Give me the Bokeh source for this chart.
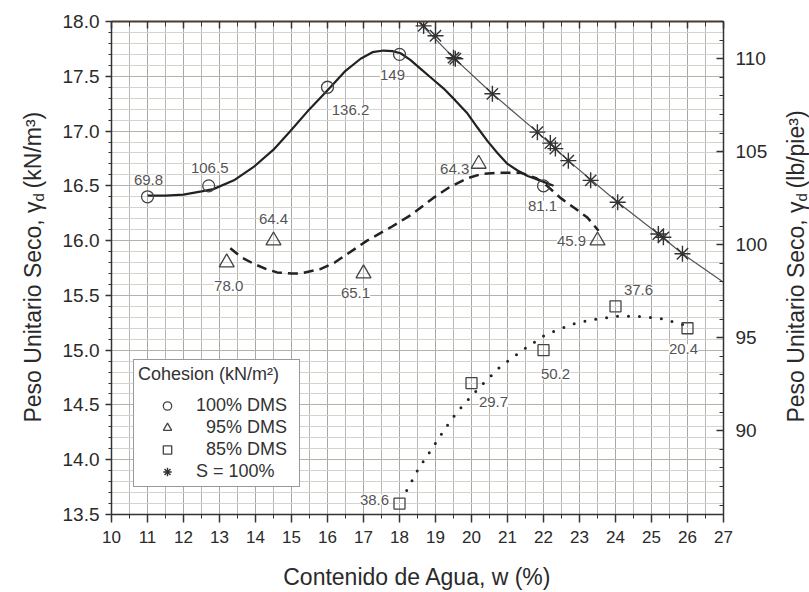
import math
from bokeh.plotting import figure
from bokeh.layouts import row
from bokeh.models import (ColumnDataSource, LinearAxis, Range1d, SingleIntervalTicker,
                          PrintfTickFormatter, Legend, LegendItem, BoxAnnotation)
from bokeh.core.properties import value
from bokeh.embed import file_html
from bokeh.resources import INLINE

FONT = "Liberation Sans"

# ---------------- data ----------------
# 100% DMS (circles)
w100 = [11.0, 12.7, 16.0, 18.0, 22.0]
g100 = [16.4, 16.5, 17.4, 17.7, 16.5]
c100 = ["69.8", "106.5", "136.2", "149", "81.1"]
# 95% DMS (triangles)
w95 = [13.2, 14.5, 17.0, 20.2, 23.5]
g95 = [15.8, 16.0, 15.7, 16.7, 16.0]
c95 = ["78.0", "64.4", "65.1", "64.3", "45.9"]
# 85% DMS (squares)
w85 = [18.0, 20.0, 22.0, 24.0, 26.0]
g85 = [13.6, 14.7, 15.0, 15.4, 15.2]
c85 = ["38.6", "29.7", "50.2", "37.6", "20.4"]
# S = 100% points (asterisks)
wS = [18.67, 19.0, 19.5, 19.55, 20.58, 21.83, 22.19, 22.33, 22.69, 23.31, 24.06, 25.19, 25.33, 25.86]
gS = [17.96, 17.87, 17.67, 17.66, 17.34, 16.99, 16.89, 16.84, 16.73, 16.55, 16.35, 16.06, 16.03, 15.88]
# S = 100% line (traced)
wS_line = [18.52, 19.5, 20.58, 21.83, 22.69, 24.06, 25.19, 25.86, 27.0]
gS_line = [18.0, 17.67, 17.34, 16.99, 16.73, 16.35, 16.06, 15.88, 15.62]

# fitted curves
w100_fit = [11.0, 11.5, 12.0, 12.5, 12.83, 13.4, 13.94, 14.5, 14.97, 15.5, 16.08, 16.5, 16.92,
            17.25, 17.56, 17.8, 18.03, 18.3, 18.58, 18.9, 19.22, 19.55, 19.89, 20.17, 20.44,
            20.72, 21.0, 21.28, 21.56, 21.9, 22.28]
g100_fit = [16.41, 16.41, 16.42, 16.45, 16.47, 16.55, 16.67, 16.83, 17.0, 17.2, 17.40, 17.55, 17.66,
            17.72, 17.735, 17.73, 17.71, 17.65, 17.57, 17.48, 17.39, 17.28, 17.16, 17.03, 16.91,
            16.80, 16.70, 16.64, 16.59, 16.55, 16.50]
w95_fit = [13.3, 13.6, 13.94, 14.3, 14.6, 15.0, 15.25, 15.8, 16.2, 16.56, 17.1, 17.75, 18.3,
           18.94, 19.4, 19.89, 20.3, 20.8, 21.36, 21.8, 22.1, 22.47, 22.85, 23.22, 23.53]
g95_fit = [15.93, 15.85, 15.79, 15.74, 15.71, 15.70, 15.70, 15.74, 15.80, 15.88, 16.0, 16.12, 16.23,
           16.39, 16.49, 16.57, 16.61, 16.62, 16.62, 16.57, 16.50, 16.39, 16.30, 16.21, 16.09]
w85_fit = [18.2, 18.35, 18.53, 18.9, 19.28, 19.5, 19.72, 19.97, 20.25, 20.53, 20.8, 21.14, 21.42,
           21.69, 22.0, 22.28, 22.83, 23.39, 24.05, 24.6, 25.25, 25.8, 26.0]
g85_fit = [13.72, 13.81, 13.92, 14.10, 14.29, 14.39, 14.48, 14.57, 14.67, 14.76, 14.85, 14.93, 15.0,
           15.06, 15.13, 15.17, 15.24, 15.28, 15.31, 15.31, 15.29, 15.24, 15.22]

x_title = "Contenido de Agua, w (%)"
y_title_main = "Peso Unitario Seco, \u03b3"
y_title_sub = "d"
y_title_left_unit = "(kN/m\u00b3)"
y_title_right_unit = "(lb/pie\u00b3)"
legend_title = "Cohesion (kN/m\u00b2)"
legend_labels = ["100% DMS", "\u00a0\u00a095% DMS", "\u00a0\u00a085% DMS", "S = 100%"]

# label offsets (pixels) relative to each point
dx100 = [1, 1, 23, -7, -1]
dy100 = [-17, -18, 23, 21, 20]
dx95 = [2, 0, -8, -24, -26]
dy95 = [23, -22, 20, 5, 0]
dx85 = [-25, 22, 12, 23, -4]
dy85 = [-4, 19, 24, -16, 21]

H = 592
WL, WR = 50, 34
WM = 809 - WL - WR
TXT = "#2a2a2a"
AX = "#333333"

# ---------------- main figure ----------------
p = figure(width=WM, height=H, x_range=Range1d(10, 27), y_range=Range1d(13.5, 18.0),
           output_backend="svg", toolbar_location=None,
           min_border_left=111 - WL, min_border_right=(WL + WM) - 723,
           min_border_top=21, min_border_bottom=78)
p.extra_y_ranges = {"lb": Range1d(85.5, 112.0)}
p.outline_line_color = None
p.background_fill_color = "white"

xt = SingleIntervalTicker(interval=1, num_minor_ticks=2)
yt = SingleIntervalTicker(interval=0.5, num_minor_ticks=5)

p.xgrid.ticker = xt
p.ygrid.ticker = yt
p.xgrid.grid_line_color = "#a8a8a8"
p.xgrid.minor_grid_line_color = "#b8b8b8"
p.ygrid.grid_line_color = "#b4b4a8"
p.ygrid.minor_grid_line_color = "#d4d4cc"

xa = p.xaxis[0]
xa.ticker = xt
xa.axis_line_color = AX
xa.axis_line_width = 1.5
xa.major_tick_line_color = AX
xa.minor_tick_line_color = AX
xa.major_tick_line_width = 1.5
xa.major_tick_out = 8
xa.major_tick_in = 0
xa.minor_tick_out = 4
xa.minor_tick_in = 0
xa.major_label_standoff = 8
xa.major_label_text_font = FONT
xa.major_label_text_font_size = "17px"
xa.major_label_text_color = TXT
xa.axis_label = x_title
xa.axis_label_text_font = FONT
xa.axis_label_text_font_size = "23px"
xa.axis_label_text_font_style = "normal"
xa.axis_label_text_color = TXT
xa.axis_label_standoff = 18

ya = p.yaxis[0]
ya.ticker = yt
ya.formatter = PrintfTickFormatter(format="%.1f")
ya.axis_line_color = AX
ya.axis_line_width = 1.5
ya.major_tick_line_color = AX
ya.minor_tick_line_color = AX
ya.major_tick_line_width = 1.5
ya.major_tick_out = 6
ya.major_tick_in = 0
ya.minor_tick_out = 3
ya.minor_tick_in = 0
ya.major_label_standoff = 6
ya.major_label_text_font = FONT
ya.major_label_text_font_size = "19px"
ya.major_label_text_color = TXT

ta = LinearAxis(ticker=xt, major_label_text_font_size="8px", major_label_text_color=None,
                major_tick_in=7, major_tick_out=0,
                minor_tick_in=5, minor_tick_out=0, axis_line_color="#4a3a30", axis_line_width=2,
                major_tick_line_color=AX, minor_tick_line_color=AX, major_tick_line_width=1.5)
p.add_layout(ta, "above")

ra = LinearAxis(y_range_name="lb", ticker=SingleIntervalTicker(interval=5, num_minor_ticks=5),
                major_tick_in=7, major_tick_out=0, minor_tick_in=4, minor_tick_out=0,
                axis_line_color=AX, axis_line_width=1.5, major_tick_line_color=AX,
                minor_tick_line_color=AX, major_tick_line_width=1.5,
                major_label_standoff=12, major_label_text_font=FONT,
                major_label_text_font_size="19px", major_label_text_color=TXT)
p.add_layout(ra, "right")

# data labels
lab_src = ColumnDataSource(dict(
    w=w100 + w95 + w85, g=g100 + g95 + g85, t=c100 + c95 + c85,
    dx=dx100 + dx95 + dx85, dy=dy100 + dy95 + dy85))
p.text(x="w", y="g", text="t", x_offset="dx", y_offset="dy", source=lab_src,
       text_align="center", text_baseline="middle", text_font=value(FONT),
       text_font_size="15px", text_color="#555555", background_fill_color="white")

# curves
CURVE = "#222222"
p.line(w100_fit, g100_fit, line_color=CURVE, line_width=2.2)
p.line(w95_fit, g95_fit, line_color=CURVE, line_width=2.5, line_dash="10 6")
p.line(w85_fit, g85_fit, line_color=CURVE, line_width=3, line_dash="0 11", line_cap="round")
p.line(wS_line, gS_line, line_color="#555555", line_width=1.2)

# markers
MK = "#444444"
r1 = p.scatter(w100, g100, marker="circle", size=12, fill_color=None, line_color=MK, line_width=1.3)
r2 = p.scatter(w95, g95, marker="triangle", size=15, fill_color=None, line_color=MK, line_width=1.3)
r3 = p.scatter(w85, g85, marker="square", size=11, fill_color=None, line_color=MK, line_width=1.3)
r4 = p.scatter(wS, gS, marker="asterisk", size=16, line_color="#333333", line_width=1.4)

# legend
legend = Legend(items=[LegendItem(label=legend_labels[0], renderers=[r1]),
                       LegendItem(label=legend_labels[1], renderers=[r2]),
                       LegendItem(label=legend_labels[2], renderers=[r3]),
                       LegendItem(label=legend_labels[3], renderers=[r4])],
                location=(22, 27), title=legend_title,
                title_text_font=FONT, title_text_font_size="18px", title_text_font_style="normal",
                title_text_color="#333333", title_standoff=10,
                label_text_font=FONT, label_text_font_size="18px", label_text_color="#333333",
                border_line_color="#333333", border_line_width=1.5,
                background_fill_color="white", background_fill_alpha=1.0,
                padding=4, spacing=1, margin=0, glyph_width=58, glyph_height=21,
                label_height=21, label_width=99, label_standoff=0)
p.add_layout(legend, "center")

sep = BoxAnnotation(left=22, right=187, bottom=123.25, top=124.75, level="overlay",
                    left_units="screen", right_units="screen", bottom_units="screen", top_units="screen",
                    fill_color="#333333", fill_alpha=1.0, line_color=None)
p.add_layout(sep)

# ---------------- side title strips (rotated titles with subscript) ----------------
def title_strip(w, xc, unit):
    s = figure(width=w, height=H, x_range=Range1d(0, w), y_range=Range1d(0, H),
               output_backend="svg", toolbar_location=None,
               x_axis_location=None, y_axis_location=None,
               min_border=0, min_border_left=0, min_border_right=0,
               min_border_top=0, min_border_bottom=0)
    s.outline_line_color = None
    s.grid.visible = False
    y0 = H - 216
    ang = math.pi / 2
    s.text(x=[xc], y=[y0], text=[y_title_main], angle=ang, text_align="right",
           text_baseline="middle", text_font=value(FONT), text_font_size="23px", text_color=TXT)
    s.text(x=[xc], y=[y0], text=[y_title_sub], angle=ang, x_offset=6, text_align="left",
           text_baseline="middle", text_font=value(FONT), text_font_size="15px", text_color=TXT)
    s.text(x=[xc], y=[y0], text=[unit], angle=ang, y_offset=-13, text_align="left",
           text_baseline="middle", text_font=value(FONT), text_font_size="23px", text_color=TXT)
    return s

left_strip = title_strip(WL, 32, y_title_left_unit)
right_strip = title_strip(WR, 795 - (WL + WM), y_title_right_unit)

layout = row(left_strip, p, right_strip, spacing=0)
open("out.html", "w").write(file_html(layout, INLINE))
